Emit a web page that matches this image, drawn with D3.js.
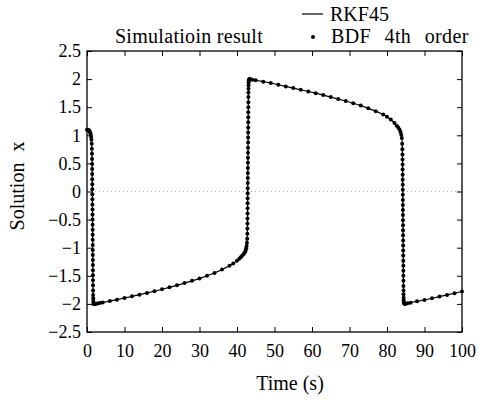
<!DOCTYPE html>
<html><head><meta charset="utf-8">
<script src="https://cdn.jsdelivr.net/npm/d3@7/dist/d3.min.js"></script>
<style>
html,body{margin:0;padding:0;background:#fff;}
svg{display:block;}
</style></head><body>
<svg id="chart" width="478" height="400"></svg>
<script>
const FONT = "'Liberation Serif', Tinos, 'Times New Roman', Times, 'DejaVu Serif', serif";
// ---- data ----
const xTicks = [0,10,20,30,40,50,60,70,80,90,100];
const xTickLabels = ["0","10","20","30","40","50","60","70","80","90","100"];
const yTicks = [-2.5,-2,-1.5,-1,-0.5,0,0.5,1,1.5,2,2.5];
const yTickLabels = ["\u22122.5","\u22122","\u22121.5","\u22121","\u22120.5","0","0.5","1","1.5","2","2.5"];
const seriesNames = ["RKF45","BDF 4th order"];

// RKF45 solution x(t) : [t, x]
const rkf45 = [
  [0,1.1],[0.3,1.1],[0.6,1.08],[0.9,1.04],[1.1,0.97],[1.25,0.85],[1.35,0.6],[1.42,0.1],
  [1.48,-0.5],[1.53,-1.0],[1.58,-1.5],[1.63,-1.85],[1.7,-1.97],[1.85,-2.0],[2.0,-2.0],
  [4,-1.975],[6,-1.95],[8,-1.925],[10,-1.895],[12,-1.865],[14,-1.835],[16,-1.805],[18,-1.775],
  [20,-1.74],[22,-1.705],[24,-1.67],[26,-1.63],[28,-1.59],[30,-1.55],[32,-1.5],[34,-1.45],
  [36,-1.39],[38,-1.32],[39,-1.28],[40,-1.23],[41,-1.17],[41.8,-1.11],[42.3,-1.05],[42.55,-0.97],
  [42.7,-0.85],[42.8,-0.55],[42.87,0],[42.93,0.6],[42.98,1.2],[43.03,1.7],[43.08,1.93],[43.2,2.0],
  [45,1.98],[47,1.955],[49,1.93],[51,1.9],[53,1.87],[55,1.84],[57,1.81],[59,1.78],[61,1.75],
  [63,1.715],[65,1.68],[67,1.645],[69,1.61],[71,1.57],[73,1.53],[75,1.48],[77,1.43],[79,1.37],
  [80,1.33],[81,1.28],[82,1.22],[83,1.14],[83.6,1.06],[83.95,0.95],[84.05,0.85],[84.15,0.55],
  [84.22,0],[84.28,-0.6],[84.34,-1.2],[84.4,-1.7],[84.46,-1.93],[84.6,-2.0],
  [86,-1.98],[88,-1.955],[90,-1.93],[92,-1.9],[94,-1.87],[96,-1.84],[98,-1.81],[100,-1.78]
];

// BDF 4th order points : [t, x]
const bdfStart = [
  [0,1.1],[0.15,1.1],[0.3,1.1],[0.45,1.09],[0.6,1.08],[0.75,1.06],[0.9,1.04],[1.0,1.01],
  [1.1,0.97],[1.18,0.92],[1.25,0.85]
];
const bdfJump1 = [
  [1.30,0.76],[1.33,0.67],[1.35,0.58],[1.37,0.49],[1.38,0.4],[1.39,0.31],[1.40,0.22],[1.41,0.13],
  [1.42,0.04],[1.43,-0.05],[1.44,-0.14],[1.45,-0.23],[1.46,-0.32],[1.47,-0.41],[1.48,-0.5],
  [1.49,-0.59],[1.50,-0.68],[1.51,-0.77],[1.52,-0.86],[1.53,-0.95],[1.54,-1.04],[1.55,-1.13],
  [1.56,-1.22],[1.57,-1.31],[1.58,-1.4],[1.59,-1.49],[1.60,-1.58],[1.61,-1.67],[1.62,-1.76],
  [1.64,-1.84],[1.66,-1.9],[1.69,-1.95],[1.73,-1.98],[1.8,-2.0]
];
const bdfSlow1 = [
  [1.9,-2.0],[2.1,-2.0],[2.4,-1.997],[2.8,-1.993],[3.4,-1.985],[4.2,-1.973],[6.1,-1.95],[8,-1.925],
  [10,-1.895],[12,-1.865],[14,-1.835],[16,-1.805],[18,-1.775],[20,-1.74],[22,-1.705],[24,-1.67],
  [26,-1.63],[28,-1.59],[30,-1.55],[32,-1.5],[34,-1.45],[36,-1.39],[38,-1.32],[39,-1.28],
  [40,-1.23],[40.6,-1.195],[41,-1.17],[41.4,-1.14],[41.8,-1.11],[42.1,-1.08],[42.3,-1.05],
  [42.45,-1.01],[42.55,-0.97],[42.65,-0.91],[42.72,-0.84]
];
const bdfJump2 = [
  [42.76,-0.75],[42.78,-0.66],[42.79,-0.57],[42.80,-0.48],[42.81,-0.39],[42.82,-0.3],[42.83,-0.21],
  [42.84,-0.12],[42.85,-0.03],[42.86,0.06],[42.87,0.15],[42.88,0.24],[42.89,0.33],[42.90,0.42],
  [42.91,0.51],[42.92,0.6],[42.93,0.69],[42.94,0.78],[42.95,0.87],[42.96,0.96],[42.97,1.05],
  [42.98,1.14],[42.99,1.23],[43.00,1.32],[43.01,1.41],[43.02,1.5],[43.03,1.59],[43.04,1.68],
  [43.05,1.76],[43.06,1.83],[43.08,1.89],[43.10,1.94],[43.13,1.97],[43.17,1.99]
];
const bdfSlow2 = [
  [43.3,2.0],[43.6,1.998],[44.1,1.99],[45,1.98],[47,1.955],[49,1.93],[51,1.9],[53,1.87],[55,1.84],
  [57,1.81],[59,1.78],[61,1.75],[63,1.715],[65,1.68],[67,1.645],[69,1.61],[71,1.57],[73,1.53],
  [75,1.48],[77,1.43],[79,1.37],[80,1.33],[81,1.28],[82,1.22],[82.6,1.17],[83,1.14],[83.35,1.1],
  [83.6,1.06],[83.8,1.01],[83.95,0.95],[84.05,0.85]
];
const bdfJump3 = [
  [84.10,0.75],[84.12,0.66],[84.14,0.57],[84.15,0.48],[84.16,0.39],[84.17,0.3],[84.18,0.21],
  [84.19,0.12],[84.20,0.03],[84.21,-0.06],[84.22,-0.15],[84.23,-0.24],[84.24,-0.33],[84.25,-0.42],
  [84.26,-0.51],[84.27,-0.6],[84.28,-0.69],[84.29,-0.78],[84.30,-0.87],[84.31,-0.96],[84.32,-1.05],
  [84.33,-1.14],[84.34,-1.23],[84.35,-1.32],[84.36,-1.41],[84.37,-1.5],[84.38,-1.59],[84.39,-1.68],
  [84.40,-1.76],[84.41,-1.83],[84.43,-1.89],[84.45,-1.94],[84.49,-1.97],[84.55,-1.99]
];
const bdfSlow3 = [
  [84.7,-2.0],[85.0,-1.997],[85.5,-1.99],[86.3,-1.978],[88,-1.955],[90,-1.93],[92,-1.9],
  [94,-1.87],[96,-1.84],[98,-1.81],[100,-1.78]
];
const bdf = [].concat(bdfStart, bdfJump1, bdfSlow1, bdfJump2, bdfSlow2, bdfJump3, bdfSlow3);

// ---- drawing ----
const svg = d3.select("#chart");
const L = 87, R = 462, T = 51, B = 332;
const x = d3.scaleLinear().domain([0,100]).range([L,R]);
const y = d3.scaleLinear().domain([-2.5,2.5]).range([B,T]);

// faint dotted zero line
svg.append("line")
  .attr("x1", x(0)).attr("x2", x(100)).attr("y1", y(0)).attr("y2", y(0))
  .attr("stroke", "#a0a0a0").attr("stroke-width", 0.8).attr("stroke-dasharray", "1,3");

// axes (ticks inside)
const gB = svg.append("g").attr("transform", `translate(0,${B})`)
  .call(d3.axisBottom(x).tickValues(xTicks).tickFormat((d,i)=>xTickLabels[i])
        .tickSizeInner(-5).tickSizeOuter(0).tickPadding(12));
const gL = svg.append("g").attr("transform", `translate(${L},0)`)
  .call(d3.axisLeft(y).tickValues(yTicks).tickFormat((d,i)=>yTickLabels[i])
        .tickSizeInner(-5).tickSizeOuter(0).tickPadding(6));
const gT = svg.append("g").attr("transform", `translate(0,${T})`)
  .call(d3.axisTop(x).tickValues(xTicks).tickFormat("").tickSizeInner(-5).tickSizeOuter(0));
const gR = svg.append("g").attr("transform", `translate(${R},0)`)
  .call(d3.axisRight(y).tickValues(yTicks).tickFormat("").tickSizeInner(-5).tickSizeOuter(0));
[gB,gL,gT,gR].forEach(g => {
  g.attr("font-family", FONT).attr("font-size", 18);
  g.select(".domain").remove();
  g.selectAll(".tick line").attr("stroke","#000").attr("stroke-width",1);
  g.selectAll(".tick text").style("font-family", FONT).style("font-size","18px").attr("fill","#000");
});

// frame
svg.append("rect").attr("x",L).attr("y",T).attr("width",R-L).attr("height",B-T)
  .attr("fill","none").attr("stroke","#000").attr("stroke-width",1.3);

// RKF45 line
svg.append("path").datum(rkf45)
  .attr("fill","none").attr("stroke","#000").attr("stroke-width",1.2)
  .attr("d", d3.line().x(d=>x(d[0])).y(d=>y(d[1])));

// BDF dots
svg.append("g").selectAll("circle").data(bdf).join("circle")
  .attr("cx", d=>x(d[0])).attr("cy", d=>y(d[1])).attr("r", 2).attr("fill","#000");

function label(xp, yp, str, opts) {
  const t = svg.append("text").attr("x", xp).attr("y", yp)
    .style("font-family", FONT).style("font-size", "20px").attr("fill", "#000").text(str);
  if (opts && opts.anchor) t.attr("text-anchor", opts.anchor);
  if (opts && opts.ws) t.style("word-spacing", opts.ws);
  if (opts && opts.ls) t.style("letter-spacing", opts.ls);
  if (opts && opts.transform) t.attr("transform", opts.transform);
  return t;
}

// title
label(189, 43, "Simulatioin result", {anchor:"middle", ls:"0.3px"});

// legend
svg.append("line").attr("x1",302).attr("x2",323).attr("y1",14).attr("y2",14)
  .attr("stroke","#000").attr("stroke-width",1.2);
label(330, 21, seriesNames[0]);
svg.append("circle").attr("cx",313).attr("cy",37).attr("r",2).attr("fill","#000");
label(331, 43, seriesNames[1], {ws:"8px", ls:"0.4px"});

// axis labels
label(290, 390, "Time (s)", {anchor:"middle"});
label(0, 0, "Solution x", {anchor:"middle", ws:"6px", transform:"translate(24,186) rotate(-90)"});
</script>
</body></html>
